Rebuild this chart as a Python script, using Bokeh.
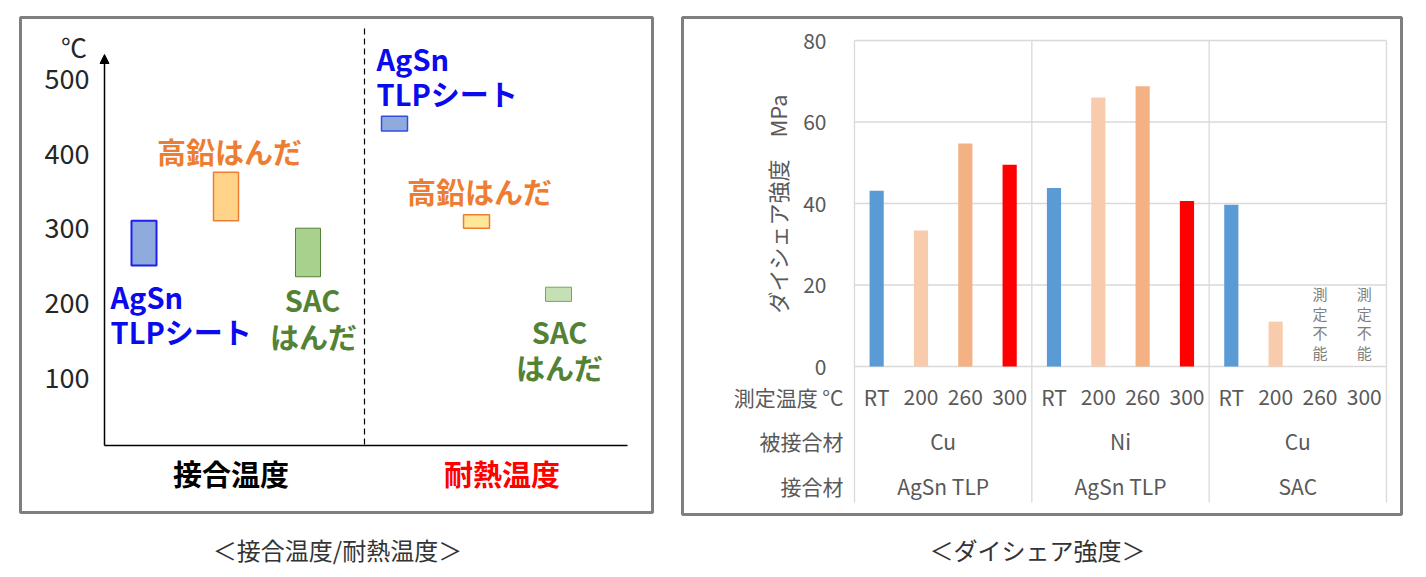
from bokeh.plotting import figure
from bokeh.models import Range1d, Arrow, NormalHead
from bokeh.core.properties import value
from bokeh.embed import file_html
from bokeh.resources import INLINE

# ---------------- data ----------------
# left chart: temperatures (°C)
temp_ticks = [100, 200, 300, 400, 500]
temp_tick_labels = ["100", "200", "300", "400", "500"]
temp_groups = ["接合温度", "耐熱温度"]
left_materials = ["AgSn TLP", "高鉛はんだ", "SAC"]
join_lo = [250, 310, 235]
join_hi = [310, 375, 300]
heat_lo = [430, 300, 202]
heat_hi = [450, 318, 221]

# right chart: die shear strength (MPa)
shear_ticks = [0, 20, 40, 60, 80]
shear_tick_labels = ["0", "20", "40", "60", "80"]
meas_temps = ["RT", "200", "260", "300"]
substrates = ["Cu", "Ni", "Cu"]
bond_materials = ["AgSn TLP", "AgSn TLP", "SAC"]
shear_agsn_cu = [43.1, 33.4, 54.7, 49.5]
shear_agsn_ni = [43.8, 66.0, 68.8, 40.6]
shear_sac_cu = [39.7, 11.0, None, None]
unmeasurable_text = "測定不能"

# ---------------- figure ----------------
FONT = "Noto Sans CJK JP"
W, H = 1418, 569
X0, Y0 = 0, 0  # picture offset of the canvas

p = figure(width=W, height=H, x_range=Range1d(X0, X0 + W), y_range=Range1d(Y0 + H, Y0),
           output_backend="svg", toolbar_location=None, min_border=0,
           x_axis_location=None, y_axis_location=None)
p.xgrid.visible = False
p.ygrid.visible = False
p.outline_line_color = None
p.background_fill_color = "white"
p.border_fill_color = "white"

# scale mappings (picture pixels)
T_REF_V, T_REF_PX, T_PX_PER = 500, 78.3, 0.747
def t_val(px):
    return T_REF_V - (px - T_REF_PX) / T_PX_PER
LX_A, LX_B = 143.5, 82.0
def lx_val(px):
    return (px - LX_A) / LX_B
RX_A, RX_B = 854.0, 44.33
def rx_val(px):
    return (px - RX_A) / RX_B
RY_ZERO_PX, RY_PX_PER = 366.0, 4.075
def ry_val(px):
    return (RY_ZERO_PX - px) / RY_PX_PER

p.extra_y_ranges = {"ty": Range1d(t_val(Y0 + H), t_val(Y0)),
                    "ry": Range1d(ry_val(Y0 + H), ry_val(Y0))}
p.extra_x_ranges = {"lx": Range1d(lx_val(X0), lx_val(X0 + W)),
                    "rx": Range1d(rx_val(X0), rx_val(X0 + W))}

# ---------------- panel borders ----------------
p.quad(left=[20, 682], right=[652, 1401], top=[17, 17], bottom=[512, 514],
       fill_color=None, line_color="#7F7F7F", line_width=3)

# ---------------- left chart ----------------
p.segment(x0=[104], y0=[445], x1=[627], y1=[445], line_color="black", line_width=1.5)
p.add_layout(Arrow(end=NormalHead(size=9, fill_color="black", line_color="black"),
                   x_start=104, y_start=445, x_end=104, y_end=54,
                   line_color="black", line_width=1.5))
p.segment(x0=[364], y0=[28], x1=[364], y1=[445], line_color="black",
          line_width=1.2, line_dash="6 4")

p.text(x=[89] * len(temp_ticks), y=temp_ticks, text=temp_tick_labels, y_range_name="ty",
       text_font=value(FONT), text_font_size="27px", text_color="#262626",
       text_align="right", text_baseline="middle")
p.text(x=[73.5], y=[46], text=["℃"], text_font=value(FONT), text_font_size="26px",
       text_color="#262626", text_align="center", text_baseline="middle")

join_x = [j for j in range(len(left_materials))]
heat_x = [j + 3.055 for j in range(len(left_materials))]
bw1, bw2 = 0.305, 0.317
p.quad(left=[x - bw1 / 2 for x in join_x], right=[x + bw1 / 2 for x in join_x],
       bottom=join_lo, top=join_hi, x_range_name="lx", y_range_name="ty",
       fill_color=["#8FAADC", "#FFD48A", "#A9D18E"],
       line_color=["#1F1FF0", "#ED7D31", "#548235"], line_width=[2, 1.5, 1])
p.quad(left=[x - bw2 / 2 for x in heat_x], right=[x + bw2 / 2 for x in heat_x],
       bottom=heat_lo, top=heat_hi, x_range_name="lx", y_range_name="ty",
       fill_color=["#8FAADC", "#FFE699", "#C5E0B4"],
       line_color=["#2F4FE0", "#ED7D31", "#70AD47"], line_width=[1.5, 1.5, 1])

BLUE, ORANGE, GREEN = "#0A0AEE", "#ED7D31", "#548235"
def lbl(x, y, t, color, align="center", size="29px"):
    p.text(x=[x], y=[y], text=[t], text_font=value(FONT), text_font_size=size,
           text_font_style="bold", text_color=color, text_align=align,
           text_baseline="middle")

lbl(110, 295, "AgSn", BLUE, "left")
lbl(110, 330, "TLPシート", BLUE, "left")
lbl(229, 150, left_materials[1], ORANGE)
lbl(312, 298, "SAC", GREEN)
lbl(313, 335, "はんだ", GREEN)
lbl(376, 57.5, "AgSn", BLUE, "left")
lbl(376, 92.5, "TLPシート", BLUE, "left")
lbl(479, 190, left_materials[1], ORANGE)
lbl(559, 330, "SAC", GREEN)
lbl(559, 366, "はんだ", GREEN)
lbl(230.5, 472, temp_groups[0], "#000000")
lbl(501.5, 472, temp_groups[1], "#FF0000")

# ---------------- right chart ----------------
GRAY_TXT = "#595959"
n_slots = len(meas_temps) * len(substrates)
p.segment(x0=[0] * len(shear_ticks), x1=[n_slots] * len(shear_ticks),
          y0=shear_ticks, y1=shear_ticks, x_range_name="rx", y_range_name="ry",
          line_color="#D9D9D9", line_width=1.3)
sep_x = [g * len(meas_temps) for g in range(len(substrates) + 1)]
p.segment(x0=sep_x, x1=sep_x, y0=[shear_ticks[-1]] * len(sep_x),
          y1=[ry_val(502)] * len(sep_x), x_range_name="rx", y_range_name="ry",
          line_color="#D9D9D9", line_width=1.3)

p.text(x=[826] * len(shear_ticks), y=shear_ticks, text=shear_tick_labels,
       y_range_name="ry", text_font=value(FONT), text_font_size="21px",
       text_color=GRAY_TXT, text_align="right", text_baseline="middle")

bar_colors = ["#5B9BD5", "#F8CBAD", "#F4B183", "#FF0000"]
bx, btop, bcol = [], [], []
for g, series in enumerate([shear_agsn_cu, shear_agsn_ni, shear_sac_cu]):
    for k, v in enumerate(series):
        if v is not None:
            bx.append(g * len(meas_temps) + k + 0.5)
            btop.append(v)
            bcol.append(bar_colors[k])
p.vbar(x=bx, top=btop, bottom=0, width=0.32, x_range_name="rx", y_range_name="ry",
       fill_color=bcol, line_color=None)

for g, series in enumerate([shear_agsn_cu, shear_agsn_ni, shear_sac_cu]):
    for k, v in enumerate(series):
        if v is None:
            xs = [g * len(meas_temps) + k + 0.5] * len(unmeasurable_text)
            ys = [293 + 19.5 * c for c in range(len(unmeasurable_text))]
            p.text(x=xs, y=ys, text=list(unmeasurable_text), x_range_name="rx",
                   text_font=value(FONT), text_font_size="15px", text_color="#7F7F7F",
                   text_align="center", text_baseline="middle")

cat_x = [i + 0.5 for i in range(n_slots)]
cat_t = meas_temps * len(substrates)
p.text(x=cat_x, y=[396] * n_slots, text=cat_t, x_range_name="rx",
       text_font=value(FONT), text_font_size="21px", text_color=GRAY_TXT,
       text_align="center", text_baseline="middle")
grp_x = [g * len(meas_temps) + len(meas_temps) / 2 for g in range(len(substrates))]
p.text(x=grp_x, y=[440] * len(grp_x), text=substrates, x_range_name="rx",
       text_font=value(FONT), text_font_size="21px", text_color=GRAY_TXT,
       text_align="center", text_baseline="middle")
p.text(x=grp_x, y=[485] * len(grp_x), text=bond_materials, x_range_name="rx",
       text_font=value(FONT), text_font_size="21px", text_color=GRAY_TXT,
       text_align="center", text_baseline="middle")
p.text(x=[843] * 3, y=[396, 440, 485], text=["測定温度 °C", "被接合材", "接合材"],
       text_font=value(FONT), text_font_size="21px", text_color=GRAY_TXT,
       text_align="right", text_baseline="middle")

p.text(x=[776.5], y=[203.5], text=["ダイシェア強度　MPa"], angle=1.5707963,
       text_font=value(FONT), text_font_size="22px", text_color=GRAY_TXT,
       text_align="center", text_baseline="middle")

# ---------------- captions ----------------
p.text(x=[337, 1037], y=[549, 549], text=["＜接合温度/耐熱温度＞", "＜ダイシェア強度＞"],
       text_font=value(FONT), text_font_size="24px", text_color="#333333",
       text_align="center", text_baseline="middle")

open("out.html", "w").write(file_html(p, INLINE))
